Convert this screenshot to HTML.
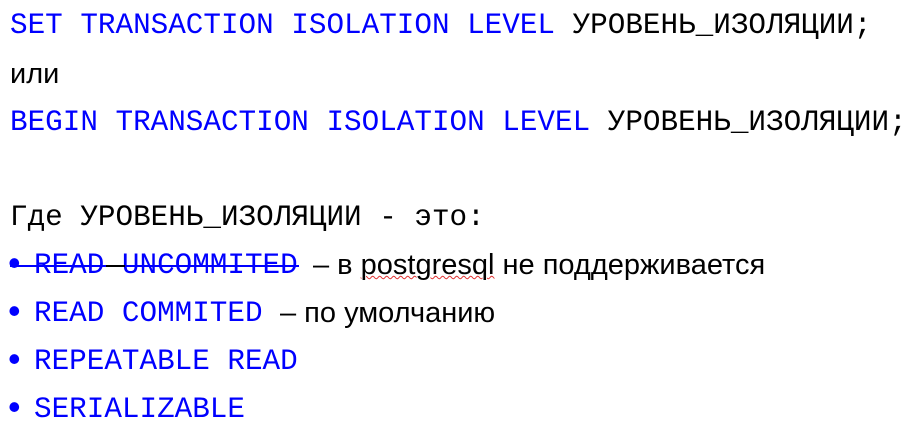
<!DOCTYPE html>
<html><head><meta charset="utf-8"><style>
html,body{margin:0;padding:0;background:#fff;width:919px;height:441px;overflow:hidden;position:relative}
.l{position:absolute;left:10px;white-space:pre;font-family:"Liberation Mono",monospace;font-size:29.3px;line-height:36px;color:#000}
.b{color:#0000ff}
.s{font-family:"Liberation Sans",sans-serif;font-size:29px;color:#000}
.dot{font-family:"Liberation Sans",sans-serif;color:#0000ff;font-size:36px;position:absolute;left:-2px;top:-3px}
.t{position:absolute;left:24px}
</style></head><body>
<div class="l" style="top:8px"><span class="b">SET TRANSACTION ISOLATION LEVEL</span> УРОВЕНЬ_ИЗОЛЯЦИИ;</div>
<div class="l s" style="top:56px;font-size:29px">или</div>
<div class="l" style="top:105px"><span class="b">BEGIN TRANSACTION ISOLATION LEVEL</span> УРОВЕНЬ_ИЗОЛЯЦИИ;</div>
<div class="l" style="top:200px">Где УРОВЕНЬ_ИЗОЛЯЦИИ - это:</div>
<div class="l" style="top:248px;width:900px"><span class="dot">•</span><span class="t"><span class="b">READ UNCOMMITED</span></span><span class="s" style="position:absolute;left:303px;top:-1px">– в <span style="text-decoration:underline wavy #e03030;text-decoration-thickness:1px">postgresql</span> не поддерживается</span></div>
<div style="position:absolute;left:10px;top:265px;width:289px;height:2px;background:#0000ff"></div>
<div style="position:absolute;left:106px;top:265px;width:19px;height:2px;background:#000"></div>
<div class="l" style="top:296px;width:900px"><span class="dot">•</span><span class="t"><span class="b">READ COMMITED</span></span><span class="s" style="position:absolute;left:270px;top:-1px">– по умолчанию</span></div>
<div class="l" style="top:344px"><span class="dot">•</span><span class="t"><span class="b">REPEATABLE READ</span></span></div>
<div class="l" style="top:392px"><span class="dot">•</span><span class="t"><span class="b">SERIALIZABLE</span></span></div>
</body></html>
